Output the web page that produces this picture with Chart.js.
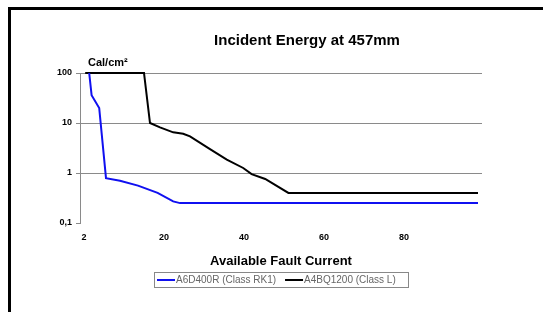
<!DOCTYPE html>
<html lang="en">
<head>
    <meta charset="UTF-8">
    <title>Incident Energy at 457mm</title>
    <script src="https://cdn.jsdelivr.net/npm/chart.js"></script>
    <style>
        html, body { margin: 0; padding: 0; background: #fff; }
        #wrap { position: relative; width: 543px; height: 312px; overflow: hidden; }
        #frame {
            position: absolute; left: 8px; top: 7px; width: 600px; height: 400px;
            border-left: 3px solid #000; border-top: 3px solid #000;
        }
        #chart { position: absolute; left: 0; top: 0; }
    </style>
</head>
<body>
    <div id="wrap">
        <div id="frame"></div>
        <canvas id="chart" width="543" height="312"></canvas>
    </div>
    <script>
        // values (x in axis units, y in cal/cm2)
        const blueLabel = 'A6D400R (Class RK1)';
        const blueX = [1.3, 1.9, 3.8, 5.5, 9, 13.5, 18.4, 22.3, 24, 98.5];
        const blueY = [100, 36, 20, 0.79, 0.7, 0.56, 0.4, 0.27, 0.25, 0.25];

        const blackLabel = 'A4BQ1200 (Class L)';
        const blackX = [0.3, 15, 16.5, 19, 22.3, 24.8, 26.5, 31.5, 35.7, 39.8, 41.9, 45.3, 51.1, 98.5];
        const blackY = [100, 100, 10, 8.2, 6.5, 6.1, 5.4, 3.0, 1.85, 1.26, 0.95, 0.76, 0.4, 0.4];

        const xTickValues = [0, 20, 40, 60, 80];
        const xTickLabels = ['2', '20', '40', '60', '80'];
        const yTickValues = [0.1, 1, 10, 100];
        const yTickLabels = ['0,1', '1', '10', '100'];

        const FONT = '"Liberation Sans", Arial, sans-serif';

        function points(xs, ys) {
            return xs.map((x, i) => ({ x: x, y: ys[i] }));
        }

        const decor = {
            id: 'decor',
            afterDraw(chart) {
                const ctx = chart.ctx;
                const area = chart.chartArea;
                const cx = (area.left + area.right) / 2;
                ctx.save();
                ctx.fillStyle = '#000';

                // chart title
                ctx.font = 'bold 15px ' + FONT;
                ctx.textAlign = 'center';
                ctx.textBaseline = 'alphabetic';
                ctx.fillText('Incident Energy at 457mm', 307, 45);

                // unit over the y axis
                ctx.font = 'bold 11px ' + FONT;
                ctx.textAlign = 'left';
                ctx.fillText('Cal/cm\u00b2', 88, 66);

                // x axis title
                ctx.font = 'bold 13px ' + FONT;
                ctx.textAlign = 'center';
                ctx.fillText('Available Fault Current', cx, 265);

                // legend with a box
                const boxL = 154, boxT = 272, boxW = 254, boxH = 15;
                ctx.strokeStyle = '#888';
                ctx.lineWidth = 1;
                ctx.strokeRect(boxL + 0.5, boxT + 0.5, boxW, boxH);
                ctx.font = '10px ' + FONT;
                ctx.textAlign = 'left';
                ctx.textBaseline = 'middle';
                let x = boxL + 3;
                const y = boxT + boxH / 2 + 0.5;
                chart.data.datasets.forEach(ds => {
                    ctx.strokeStyle = ds.borderColor;
                    ctx.lineWidth = 2;
                    ctx.beginPath();
                    ctx.moveTo(x, y);
                    ctx.lineTo(x + 18, y);
                    ctx.stroke();
                    x += 19;
                    ctx.fillStyle = '#666';
                    ctx.fillText(ds.label, x, y);
                    x += ctx.measureText(ds.label).width + 9;
                });
                ctx.restore();
            }
        };

        new Chart(document.getElementById('chart'), {
            type: 'line',
            data: {
                datasets: [
                    {
                        label: blueLabel,
                        data: points(blueX, blueY),
                        borderColor: '#1010f0',
                        borderWidth: 2,
                        pointRadius: 0,
                        tension: 0,
                        clip: false
                    },
                    {
                        label: blackLabel,
                        data: points(blackX, blackY),
                        borderColor: '#000',
                        borderWidth: 2,
                        pointRadius: 0,
                        tension: 0,
                        clip: false
                    }
                ]
            },
            options: {
                responsive: false,
                animation: false,
                devicePixelRatio: 1,
                layout: { padding: { left: 20, top: 73, right: 61, bottom: 69 } },
                plugins: {
                    legend: { display: false },
                    title: { display: false },
                    tooltip: { enabled: false }
                },
                scales: {
                    x: {
                        type: 'linear',
                        min: -1,
                        max: 99.5,
                        afterBuildTicks: scale => {
                            scale.ticks = xTickValues.map(v => ({ value: v }));
                        },
                        afterFit: scale => { scale.height = 20; },
                        grid: { display: false, drawTicks: false },
                        border: { display: false },
                        ticks: {
                            padding: 9,
                            maxRotation: 0,
                            color: '#000',
                            font: { family: FONT, size: 9, weight: 'bold' },
                            callback: (v, i) => xTickLabels[i]
                        }
                    },
                    y: {
                        type: 'logarithmic',
                        min: 0.1,
                        max: 100,
                        afterBuildTicks: scale => {
                            scale.ticks = yTickValues.map(v => ({ value: v }));
                        },
                        afterFit: scale => { scale.width = 60; },
                        grid: {
                            color: c => (c.tick && c.tick.value === 0.1) ? 'rgba(0,0,0,0)' : '#8a8a8a',
                            tickColor: '#8a8a8a',
                            tickLength: 4,
                            lineWidth: 1
                        },
                        border: { display: true, color: '#8a8a8a', width: 1 },
                        ticks: {
                            padding: 4,
                            color: '#000',
                            font: { family: FONT, size: 9, weight: 'bold' },
                            callback: (v, i) => yTickLabels[i]
                        }
                    }
                }
            },
            plugins: [decor]
        });
    </script>
</body>
</html>
